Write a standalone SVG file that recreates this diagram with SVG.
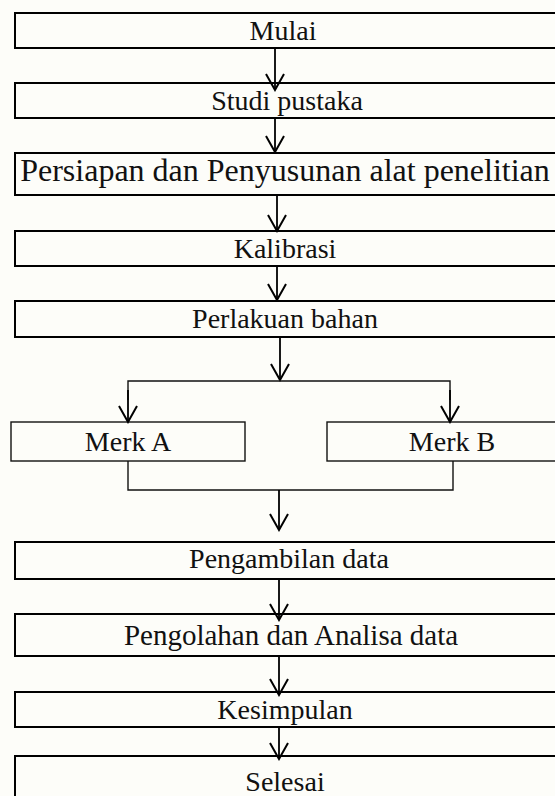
<svg xmlns="http://www.w3.org/2000/svg" width="555" height="796" viewBox="0 0 555 796">
<style>
.box{fill:none;stroke:#000;stroke-width:2}
.sbox{fill:none;stroke:#111;stroke-width:1.4}
.t{font-family:"Liberation Serif","Times New Roman",serif;font-size:28px;fill:#111;text-anchor:middle}
.c{fill:none;stroke:#000;stroke-width:1.8}
.cl{fill:none;stroke:#111;stroke-width:1.4}
</style>
<defs>
<marker id="arr" viewBox="-1 -11 19 22" refX="16" refY="0" markerWidth="19" markerHeight="22" markerUnits="userSpaceOnUse" orient="auto">
<path d="M0,-9 L16,0 L0,9" fill="none" stroke="#000" stroke-width="2"/>
</marker>
</defs>
<rect x="0" y="0" width="555" height="796" fill="#fdfdf9"/>
<g id="mulai"><rect class="box" x="15" y="13" width="560" height="35"/><text class="t" x="283" y="40">Mulai</text></g>
<g id="studi"><rect class="box" x="15" y="83" width="560" height="35"/><text class="t" x="287" y="110">Studi pustaka</text></g>
<g id="persiapan"><rect class="box" x="15" y="153" width="560" height="42"/><text class="t" x="285" y="181" style="font-size:32px">Persiapan dan Penyusunan alat penelitian</text></g>
<g id="kalibrasi"><rect class="box" x="15" y="231" width="560" height="35"/><text class="t" x="285" y="258">Kalibrasi</text></g>
<g id="perlakuan"><rect class="box" x="15" y="301" width="560" height="36"/><text class="t" x="285" y="328">Perlakuan bahan</text></g>
<g id="merkA"><rect class="sbox" x="11" y="422" width="234" height="39"/><text class="t" x="128" y="451">Merk A</text></g>
<g id="merkB"><rect class="sbox" x="327" y="422" width="260" height="39"/><text class="t" x="452" y="451">Merk B</text></g>
<g id="pengambilan"><rect class="box" x="15" y="542" width="560" height="37"/><text class="t" x="289" y="568">Pengambilan data</text></g>
<g id="pengolahan"><rect class="box" x="15" y="614" width="560" height="42"/><text class="t" x="291" y="645" style="font-size:29px">Pengolahan dan Analisa data</text></g>
<g id="kesimpulan"><rect class="box" x="15" y="692" width="560" height="35"/><text class="t" x="285" y="719">Kesimpulan</text></g>
<g id="selesai"><rect class="box" x="15" y="756" width="560" height="50"/><text class="t" x="285" y="791">Selesai</text></g>
<g id="connectors">
<line class="c" x1="275" y1="48" x2="275" y2="90" marker-end="url(#arr)"/>
<line class="c" x1="275" y1="118" x2="275" y2="152" marker-end="url(#arr)"/>
<line class="c" x1="277" y1="195" x2="277" y2="231" marker-end="url(#arr)"/>
<line class="c" x1="277" y1="266" x2="277" y2="300" marker-end="url(#arr)"/>
<line class="c" x1="280" y1="337" x2="280" y2="380" marker-end="url(#arr)"/>
<polyline class="cl" points="128,400 128,381 450,381 450,400"/>
<line class="c" x1="128" y1="390" x2="128" y2="422" marker-end="url(#arr)"/>
<line class="c" x1="450" y1="390" x2="450" y2="422" marker-end="url(#arr)"/>
<polyline class="cl" points="128,461 128,490 453,490 453,461"/>
<line class="c" x1="279" y1="490" x2="279" y2="530" marker-end="url(#arr)"/>
<line class="c" x1="279" y1="579" x2="279" y2="620" marker-end="url(#arr)"/>
<line class="c" x1="279" y1="656" x2="279" y2="695" marker-end="url(#arr)"/>
<line class="c" x1="279" y1="727" x2="279" y2="759" marker-end="url(#arr)"/>
</g>
</svg>
